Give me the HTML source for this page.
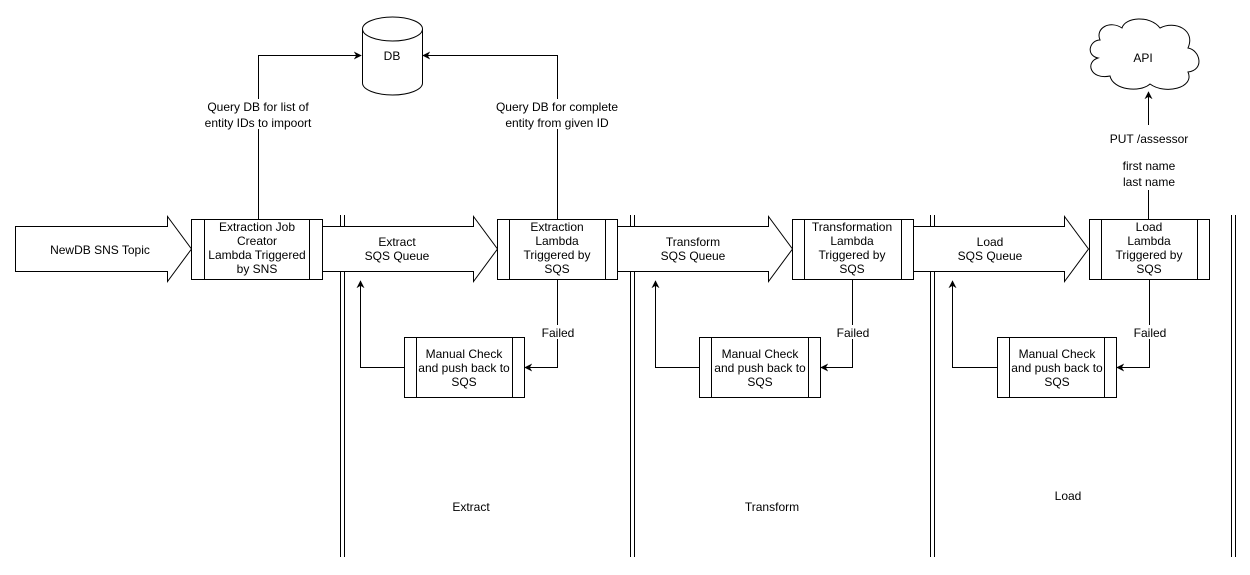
<!DOCTYPE html>
<html><head><meta charset="utf-8"><style>
html,body{margin:0;padding:0;background:#fff;}
svg{display:block;}
text{font-family:"Liberation Sans",Arial,sans-serif;font-size:12px;fill:#000;}
</style></head><body>
<svg width="1250" height="575" viewBox="0 0 1250 575" xmlns="http://www.w3.org/2000/svg">
<defs>
<marker id="ah" viewBox="0 0 10 10" refX="9" refY="5" markerWidth="8" markerHeight="8" orient="auto" markerUnits="userSpaceOnUse">
<path d="M0,0 L10,5 L0,10 L3,5 Z" fill="#000"/>
</marker>
</defs>
<g fill="none" stroke="#000" stroke-width="1">
<!-- lane lines -->
<line x1="340.5" y1="215" x2="340.5" y2="557"/><line x1="344.5" y1="215" x2="344.5" y2="557"/>
<line x1="630.5" y1="215" x2="630.5" y2="557"/><line x1="634.5" y1="215" x2="634.5" y2="557"/>
<line x1="930.5" y1="215" x2="930.5" y2="557"/><line x1="934.5" y1="215" x2="934.5" y2="557"/>
<line x1="1231.5" y1="215" x2="1231.5" y2="557"/><line x1="1235.5" y1="215" x2="1235.5" y2="557"/>
<!-- block arrows -->
<path fill="#fff" d="M15.5,226.5 H167.5 V216.5 L191.5,249 L167.5,281.5 V271.5 H15.5 Z"/>
<path fill="#fff" d="M322.5,226.5 H473.5 V216.5 L497.5,249 L473.5,281.5 V271.5 H322.5"/>
<path fill="#fff" d="M617.5,226.5 H768.5 V216.5 L792.5,249 L768.5,281.5 V271.5 H617.5"/>
<path fill="#fff" d="M913.5,226.5 H1064.5 V216.5 L1088.5,249 L1064.5,281.5 V271.5 H913.5"/>
<!-- process boxes -->
<rect x="191.5" y="219.5" width="131" height="60" fill="#fff"/><line x1="204.5" y1="219.5" x2="204.5" y2="279.5"/><line x1="309.5" y1="219.5" x2="309.5" y2="279.5"/>
<rect x="497.5" y="219.5" width="120" height="60" fill="#fff"/><line x1="509.5" y1="219.5" x2="509.5" y2="279.5"/><line x1="605.5" y1="219.5" x2="605.5" y2="279.5"/>
<rect x="792.5" y="219.5" width="121" height="60" fill="#fff"/><line x1="804.5" y1="219.5" x2="804.5" y2="279.5"/><line x1="901.5" y1="219.5" x2="901.5" y2="279.5"/>
<rect x="1089.5" y="219.5" width="120" height="60" fill="#fff"/><line x1="1101.5" y1="219.5" x2="1101.5" y2="279.5"/><line x1="1197.5" y1="219.5" x2="1197.5" y2="279.5"/>
<!-- manual boxes -->
<rect x="404.5" y="337.5" width="120" height="60" fill="#fff"/><line x1="416.5" y1="337.5" x2="416.5" y2="397.5"/><line x1="512.5" y1="337.5" x2="512.5" y2="397.5"/>
<rect x="699.5" y="337.5" width="121" height="60" fill="#fff"/><line x1="711.5" y1="337.5" x2="711.5" y2="397.5"/><line x1="808.5" y1="337.5" x2="808.5" y2="397.5"/>
<rect x="997.5" y="337.5" width="119" height="60" fill="#fff"/><line x1="1009.5" y1="337.5" x2="1009.5" y2="397.5"/><line x1="1104.5" y1="337.5" x2="1104.5" y2="397.5"/>
<!-- failed connectors -->
<path d="M557.5,279.5 V367.5 H525" marker-end="url(#ah)"/>
<path d="M852.5,279.5 V367.5 H821" marker-end="url(#ah)"/>
<path d="M1149.5,279.5 V367.5 H1117" marker-end="url(#ah)"/>
<!-- return connectors -->
<path d="M404.5,367.5 H360.5 V281" marker-end="url(#ah)"/>
<path d="M699.5,367.5 H655.5 V281" marker-end="url(#ah)"/>
<path d="M997.5,367.5 H952.5 V281" marker-end="url(#ah)"/>
<!-- DB connectors -->
<path d="M258.5,219.5 V55.5 H361" marker-end="url(#ah)"/>
<path d="M557.5,219.5 V55.5 H423" marker-end="url(#ah)"/>
<!-- API connector -->
<line x1="1148.5" y1="219.5" x2="1148.5" y2="190"/>
<path d="M1148.5,125 V92" marker-end="url(#ah)"/>
<!-- DB cylinder -->
<path fill="#fff" d="M362.5,29 A30,12 0 0 1 422.5,29 V83 A30,12 0 0 1 362.5,83 Z"/>
<path d="M362.5,29 A30,12 0 0 0 422.5,29"/>
<!-- cloud -->
<path fill="#fff" d="M1100,40 C1090,40 1085,55 1098,58 C1085,62 1090,80 1110,76 C1113,90 1140,93 1150,84 C1165,95 1195,88 1188,72 C1205,70 1200,50 1188,48 C1196,30 1175,20 1160,28 C1150,15 1125,17 1122,28 C1110,20 1095,28 1100,40 Z"/>
</g>
<g text-anchor="middle">
<text x="392" y="60">DB</text>
<text x="1143" y="62">API</text>
<text x="100" y="254">NewDB SNS Topic</text>
<text x="257" y="231">Extraction Job</text><text x="257" y="245">Creator</text><text x="257" y="259">Lambda Triggered</text><text x="257" y="273">by SNS</text>
<text x="557" y="231">Extraction</text><text x="557" y="245">Lambda</text><text x="557" y="259">Triggered by</text><text x="557" y="273">SQS</text>
<text x="852" y="231">Transformation</text><text x="852" y="245">Lambda</text><text x="852" y="259">Triggered by</text><text x="852" y="273">SQS</text>
<text x="1149" y="231">Load</text><text x="1149" y="245">Lambda</text><text x="1149" y="259">Triggered by</text><text x="1149" y="273">SQS</text>
<text x="397" y="246">Extract</text><text x="397" y="260">SQS Queue</text>
<text x="693" y="246">Transform</text><text x="693" y="260">SQS Queue</text>
<text x="990" y="246">Load</text><text x="990" y="260">SQS Queue</text>
<text x="464" y="358">Manual Check</text><text x="464" y="372">and push back to</text><text x="464" y="386">SQS</text>
<text x="760" y="358">Manual Check</text><text x="760" y="372">and push back to</text><text x="760" y="386">SQS</text>
<text x="1057" y="358">Manual Check</text><text x="1057" y="372">and push back to</text><text x="1057" y="386">SQS</text>
</g>
<g text-anchor="middle">
<rect x="545" y="325" width="26" height="14" fill="#fff"/><text x="558" y="337">Failed</text>
<rect x="840" y="325" width="26" height="14" fill="#fff"/><text x="853" y="337">Failed</text>
<rect x="1137" y="325" width="26" height="14" fill="#fff"/><text x="1150" y="337">Failed</text>
<rect x="200" y="99" width="116" height="30" fill="#fff"/><text x="258" y="111">Query DB for list of</text><text x="258" y="127">entity IDs to impoort</text>
<rect x="494" y="99" width="126" height="30" fill="#fff"/><text x="557" y="111">Query DB for complete</text><text x="557" y="127">entity from given ID</text>
<text x="1149" y="143">PUT /assessor</text>
<text x="1149" y="170">first name</text><text x="1149" y="186">last name</text>
<text x="471" y="511">Extract</text>
<text x="772" y="511">Transform</text>
<text x="1068" y="500">Load</text>
</g>
</svg>
</body></html>
